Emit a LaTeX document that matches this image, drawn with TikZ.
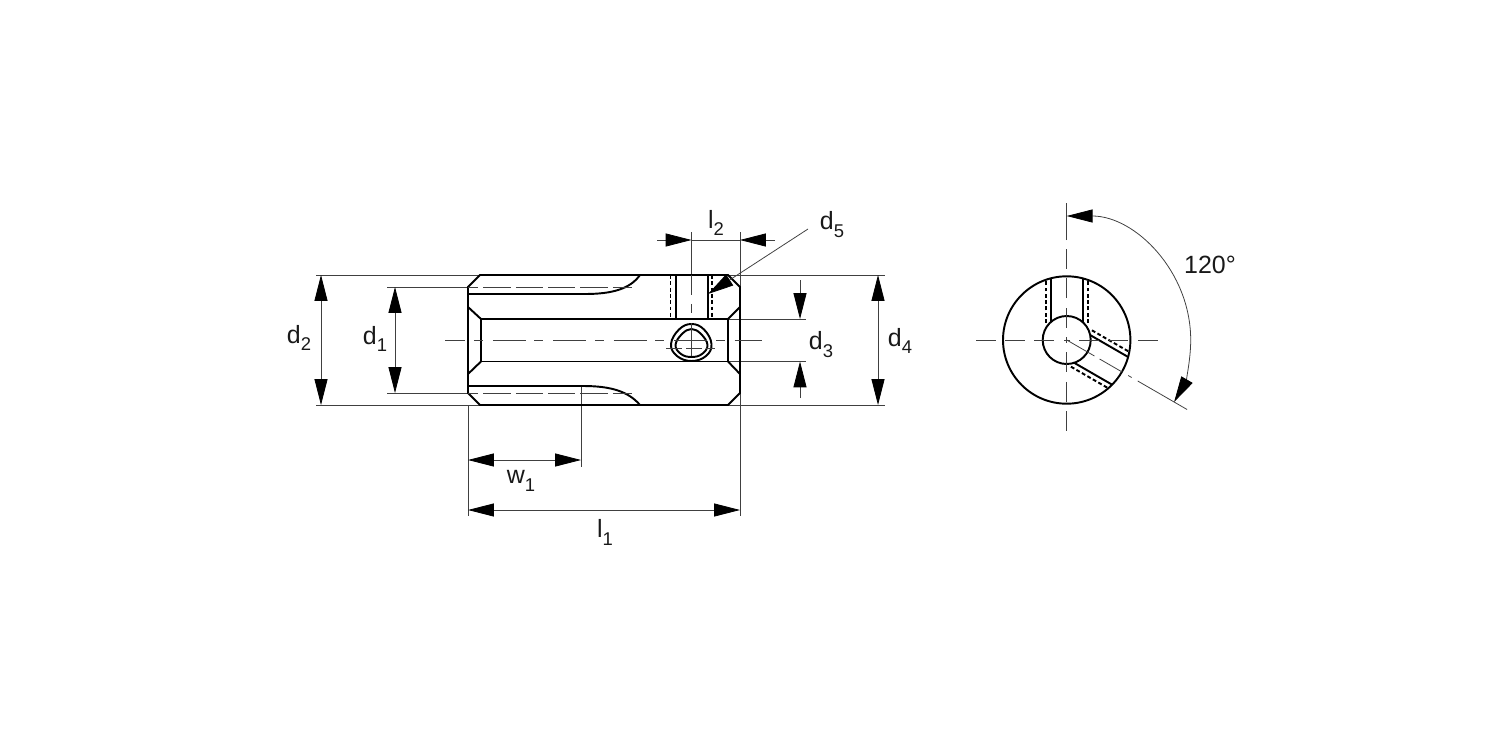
\documentclass[tikz,border=0pt]{standalone}
\usepackage{fontspec}
\setmainfont{Liberation Sans}
\usetikzlibrary{arrows.meta}
\newcommand{\subidx}[1]{\raisebox{-0.6ex}{\fontsize{10.5}{12}\selectfont #1}}
\tikzset{
    mainline/.style={line width=1.1pt, black},
    thinline/.style={line width=0.45pt, black!75},
    hiddenline/.style={line width=1.1pt, black, dash pattern=on 2.2pt off 1.4pt},
    axisline/.style={line width=0.45pt, black!75, dash pattern=on 18.7pt off 5pt on 5pt off 5.7pt, dash phase=7.2pt},
    rayline/.style={line width=0.45pt, black!75, dash pattern=on 11.3pt off 5.4pt, dash phase=9.6pt},
    dashline/.style={line width=0.45pt, black!75, dash pattern=on 15.5pt off 2.9pt, dash phase=9.6pt},
    dimline/.style={line width=0.45pt, black!75, -{Triangle[length=14.7pt, width=7.4pt, black]}},
    dimboth/.style={line width=0.45pt, black!75, {Triangle[length=14.7pt, width=7.4pt, black]}-{Triangle[length=14.7pt, width=7.4pt, black]}},
    dimlabel/.style={font=\fontsize{14.2}{16}\selectfont, text=black!90, inner sep=0pt}
}

\begin{document}
\begin{tikzpicture}[x=0.02cm, y=-0.02cm]

\useasboundingbox (0,0) rectangle (1500,750);

% --- MACRO: BORE IN END VIEW ---
% #1: Rotation angle (clockwise)
\newcommand{\drawBoreHole}[1]{
    \begin{scope}[shift={(1066.7,340)}, rotate=-#1]
        \draw[mainline] (-16,-18) -- (-16,-61.7);
        \draw[mainline] (16,-18) -- (16,-61.7);
        \draw[hiddenline] (-21,-17) -- (-21,-60.1);
        \draw[hiddenline] (21,-17) -- (21,-60.1);
    \end{scope}
}

% --- EXTENSION LINES ---
\draw[thinline] (316,275) -- (885,275);
\draw[thinline] (316,405) -- (885,405);
\draw[thinline] (387,287) -- (468,287);
\draw[thinline] (387,393) -- (468,393);
\draw[thinline] (728,319) -- (806,319);
\draw[thinline] (728,361.5) -- (806,361.5);
\draw[thinline] (468,405) -- (468,516);
\draw[thinline] (740,232) -- (740,516);
\draw[thinline] (581,387) -- (581,467);
\draw[thinline] (691.5,232) -- (691.5,275);

% --- MAIN VIEW: BODY ---
\draw[mainline, line join=round] (480,275) -- (728,275) -- (740,287) -- (740,393) -- (728,405)
    -- (480,405) -- (468,393) -- (468,287) -- cycle;
\draw[mainline] (481,319) rectangle (728,361.5);
\draw[mainline] (468,307) -- (481,319);
\draw[mainline] (468,374) -- (481,361.5);
\draw[mainline] (740,307) -- (728,319);
\draw[mainline] (740,374) -- (728,361.5);

% Grooves
\draw[mainline] (468,294) -- (585,294) .. controls (612,294) and (630,289) .. (640,275);
\draw[mainline] (468,386) -- (583,386) .. controls (610,386) and (628,391) .. (640,405);
\draw[dashline] (468,287) -- (632,287);
\draw[dashline] (468,393) -- (632,393);

% Radial bore
\draw[mainline] (675.7,275) -- (675.7,319);
\draw[mainline] (707.7,275) -- (707.7,319);
\draw[hiddenline] (670.5,275) -- (670.5,319);
\draw[hiddenline] (712.3,275) -- (712.3,319);

% Lubrication hole
\draw[mainline] plot[smooth cycle, tension=0.7] coordinates {(691.5,324) (704,329.5) (711.5,344) (706,356) (691.5,361) (677,356) (671,344) (679,329.5)};
\draw[mainline] plot[smooth cycle, tension=0.7] coordinates {(691.5,329) (701,334) (707.5,345) (702,354) (691.5,357) (681,354) (675.5,345) (682,334)};

% Axes
\draw[axisline] (445,340) -- (762,340);
\draw[axisline] (691.5,275) -- (691.5,362);
\draw[thinline, dash pattern=on 9pt off 2.5pt] (666,348) -- (715,348);

% --- END VIEW ---
\draw[mainline] (1066.7,340) circle (63.7);
\draw[mainline] (1066.7,340) circle (24);
\drawBoreHole{0}
\drawBoreHole{120}
\draw[rayline] (1066.7,340) -- (1158,340);
\draw[rayline] (1066.7,340) -- (971,340);
\draw[rayline] (1066.7,340) -- (1066.7,432);
\draw[rayline] (1066.7,340) -- (1066.7,247.5);
\draw[thinline] (1066.7,240) -- (1066.7,203);
\begin{scope}[shift={(1066.7,340)}, rotate=-30]
    \foreach \a/\b in {0/32, 38/64, 71/75, 82/139} {
        \draw[thinline] (\a,0) -- (\b,0);
    }
\end{scope}

% --- DIMENSIONS ---
\coordinate (arcstart) at (1066.7,216);
\draw[dimboth] (321,275) -- (321,405);
\draw[dimboth] (395,287) -- (395,393);
\draw[dimboth] (878,275) -- (878,405);
\draw[dimboth] (468,460) -- (581,460);
\draw[dimboth] (468,510) -- (740,510);
\draw[dimline] (800,280) -- (800,319);
\draw[dimline] (800,398) -- (800,361.5);
\draw[dimline] (657,240) -- (691.5,240);
\draw[dimline] (775,240) -- (740,240);
\draw[thinline] (691.5,240) -- (740,240);
\draw[dimline] (808,229) -- (708,294);
\draw[dimboth] (arcstart) arc[start angle=-90, end angle=30, radius=124];

% --- LABELS ---
\node[dimlabel] (labeldtwo) at (299,338) {d\subidx{2}};
\node[dimlabel] (labeldone) at (375,339) {d\subidx{1}};
\node[dimlabel] (labeldthree) at (821,345) {d\subidx{3}};
\node[dimlabel] (labeldfour) at (900,341) {d\subidx{4}};
\node[dimlabel] (labeldfive) at (832,225) {d\subidx{5}};
\node[dimlabel] (labelltwo) at (716,223) {l\subidx{2}};
\node[dimlabel] (labellone) at (605,532) {l\subidx{1}};
\node[dimlabel] (labelwone) at (521,481) {w\subidx{1}};
\node[dimlabel] (labelangle) at (1210,265) {120°};

\end{tikzpicture}
\end{document}
